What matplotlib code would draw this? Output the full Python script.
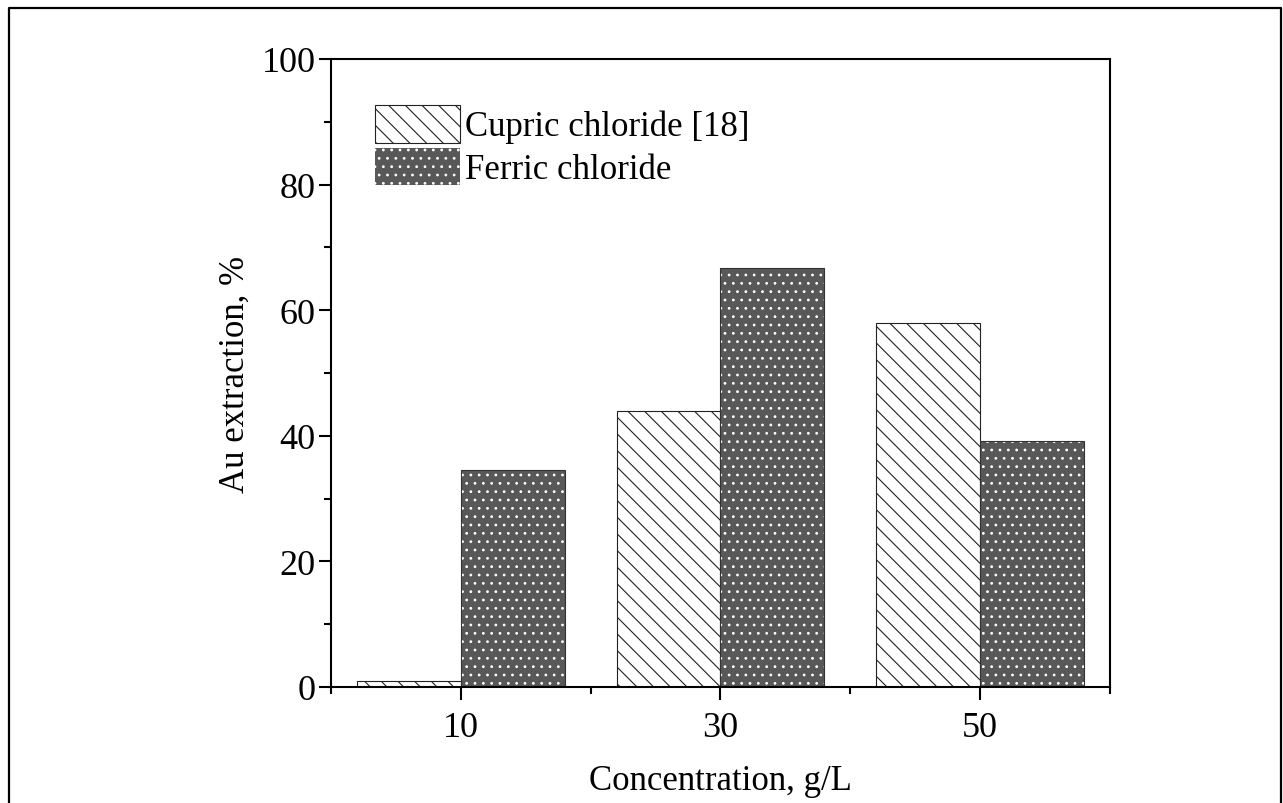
import matplotlib
matplotlib.use("Agg")
import matplotlib.pyplot as plt
import numpy as np
from matplotlib.lines import Line2D
from matplotlib.patches import Patch

plt.rcParams['font.family'] = ['Liberation Serif', 'DejaVu Serif']
plt.rcParams['hatch.linewidth'] = 0.8

categories = ["10", "30", "50"]
concentrations = [10, 30, 50]
cupric = [1.0, 44.0, 58.0]
ferric = [34.5, 66.7, 39.1]
series_names = ["Cupric chloride [18]", "Ferric chloride"]

fig = plt.figure(figsize=(12.83, 8.04), dpi=100)
ax = fig.add_axes([0.258, 0.1443, 0.607, 0.7811])

w = 8.0
x = np.array(concentrations, dtype=float)
ax.bar(x - w / 2, cupric, width=w, facecolor='white', edgecolor='#222222',
       hatch='\\\\', linewidth=0.8)
# ferric: dark dotted texture
ax.bar(x + w / 2, ferric, width=w, facecolor='#585858', edgecolor='white',
       hatch='..', linewidth=0)
ax.bar(x + w / 2, ferric, width=w, facecolor='none', edgecolor='#333333',
       linewidth=0.8)

ax.set_xlim(0, 60)
ax.set_ylim(0, 100)
ax.set_xticks(concentrations)
ax.set_xticklabels(categories)
ax.set_xticks([0, 20, 40, 60], minor=True)
ax.set_yticks(np.arange(0, 101, 20))
ax.set_yticks(np.arange(10, 100, 20), minor=True)

for s in ax.spines.values():
    s.set_linewidth(1.5)
ax.tick_params(axis='both', which='major', direction='out', length=9, width=1.5,
               labelsize=26, pad=2, top=False, right=False)
ax.tick_params(axis='x', which='major', pad=8)
ax.tick_params(axis='both', which='minor', direction='out', length=5, width=1.5,
               top=False, right=False)

ax.set_xlabel("Concentration, g/L", fontsize=25, labelpad=15)
ax.set_ylabel("Au extraction, %", fontsize=25, labelpad=7)

handles = [
    Patch(facecolor='white', edgecolor='#222222', hatch='\\\\', linewidth=0.8),
    Patch(facecolor='#585858', edgecolor='white', hatch='..', linewidth=0),
]
leg = ax.legend(handles, series_names, loc='upper left',
                bbox_to_anchor=(0.056, 0.927), frameon=False, fontsize=25,
                handlelength=2.45, handleheight=1.3, handletextpad=0.15,
                labelspacing=0.12, borderpad=0, borderaxespad=0)

# outer frame of the figure (left, top, right)
fig.add_artist(Line2D([0.007, 0.007, 0.9985, 0.9985], [0.0, 0.989, 0.989, 0.0],
                      transform=fig.transFigure, color='black', linewidth=1.6))

fig.savefig("out.png", dpi=100)
